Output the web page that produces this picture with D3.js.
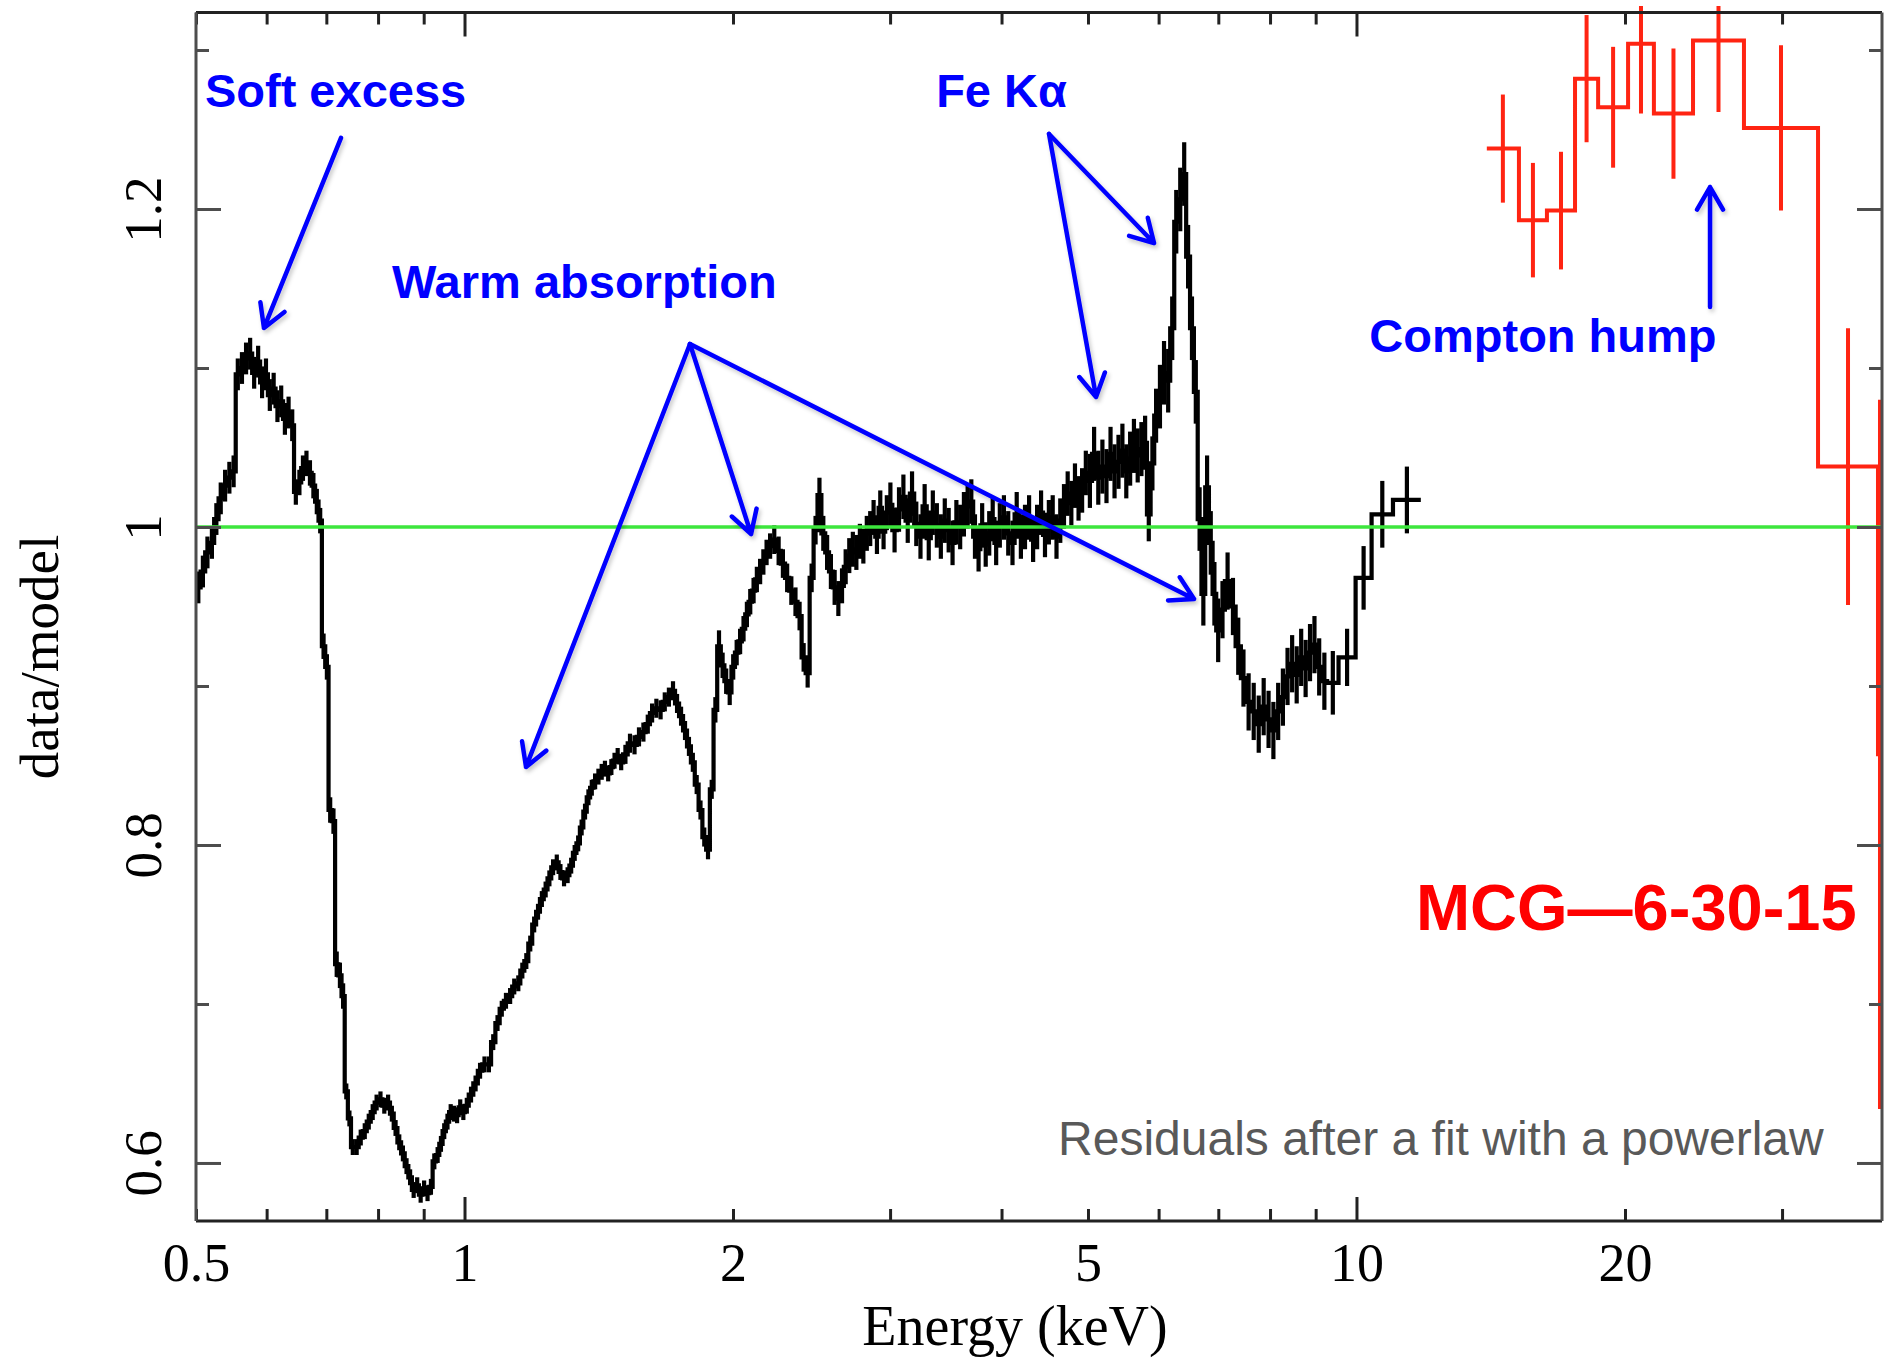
<!DOCTYPE html>
<html>
<head>
<meta charset="utf-8">
<script src="https://cdn.jsdelivr.net/npm/d3@7"></script>
<style>
  html, body { margin: 0; padding: 0; background: #ffffff; }
  svg { display: block; }
</style>
</head>
<body>
<svg id="chart" width="1886" height="1358"></svg>
<script>
// MCG-6-30-15: data/model ratio after a simple power-law fit.
// Soft/medium band spectrum: [bin centre energy (keV), ratio, 1-sigma error]
const blackSpectrum = [
  [0.503,0.962,0.010],[0.509,0.972,0.010],[0.515,0.984,0.010],[0.521,0.990,0.010],[0.527,1.005,0.010],
  [0.533,1.018,0.010],[0.539,1.026,0.010],[0.545,1.031,0.010],[0.551,1.035,0.010],[0.557,1.096,0.010],
  [0.563,1.100,0.010],[0.569,1.106,0.010],[0.575,1.109,0.010],[0.581,1.097,0.010],[0.587,1.104,0.010],
  [0.593,1.091,0.010],[0.599,1.096,0.010],[0.605,1.083,0.010],[0.611,1.087,0.010],[0.617,1.076,0.010],
  [0.623,1.079,0.010],[0.629,1.068,0.010],[0.635,1.072,0.010],[0.641,1.064,0.010],
  [0.647,1.022,0.008],[0.653,1.028,0.008],[0.659,1.037,0.008],[0.665,1.040,0.008],[0.671,1.034,0.008],
  [0.677,1.026,0.008],[0.683,1.016,0.008],[0.689,1.004,0.008],[0.695,0.925,0.008],[0.701,0.912,0.008],
  [0.707,0.822,0.008],[0.713,0.815,0.008],[0.719,0.725,0.008],[0.725,0.718,0.008],[0.731,0.705,0.008],
  [0.737,0.645,0.005],[0.743,0.628,0.005],[0.749,0.610,0.005],[0.757,0.610,0.005],[0.765,0.616,0.005],
  [0.773,0.620,0.005],[0.781,0.626,0.005],[0.789,0.632,0.005],[0.797,0.638,0.005],[0.805,0.640,0.005],
  [0.813,0.636,0.005],[0.821,0.638,0.005],[0.829,0.631,0.005],[0.837,0.622,0.005],[0.845,0.613,0.005],
  [0.853,0.606,0.005],[0.861,0.598,0.005],[0.869,0.591,0.005],[0.877,0.583,0.005],[0.885,0.586,0.005],
  [0.893,0.580,0.005],[0.901,0.584,0.005],[0.909,0.581,0.005],[0.917,0.585,0.005],[0.925,0.601,0.005],
  [0.933,0.605,0.005],[0.941,0.612,0.005],[0.949,0.620,0.005],[0.957,0.626,0.005],[0.965,0.632,0.005],
  [0.973,0.631,0.005],[0.981,0.630,0.005],[0.989,0.635,0.005],[0.997,0.632,0.005],
  [1.005,0.636,0.005],[1.017,0.643,0.005],[1.029,0.650,0.005],[1.041,0.658,0.005],[1.053,0.662,0.005],
  [1.065,0.662,0.005],[1.077,0.676,0.005],[1.089,0.688,0.005],[1.101,0.697,0.005],[1.113,0.702,0.005],
  [1.125,0.705,0.005],[1.137,0.711,0.005],[1.149,0.713,0.005],[1.161,0.721,0.005],[1.173,0.727,0.005],
  [1.185,0.738,0.005],[1.197,0.750,0.005],[1.209,0.758,0.005],[1.221,0.766,0.005],[1.233,0.772,0.005],
  [1.245,0.779,0.005],[1.257,0.786,0.005],[1.269,0.789,0.005],[1.281,0.783,0.005],[1.293,0.779,0.005],
  [1.305,0.781,0.005],[1.317,0.787,0.005],[1.329,0.795,0.005],[1.341,0.801,0.005],[1.353,0.811,0.005],
  [1.365,0.821,0.005],[1.377,0.830,0.005],[1.389,0.836,0.005],[1.401,0.840,0.005],[1.413,0.843,0.005],
  [1.425,0.846,0.005],[1.437,0.848,0.005],[1.449,0.845,0.005],[1.461,0.849,0.005],[1.473,0.853,0.005],
  [1.485,0.856,0.005],[1.497,0.852,0.005],
  [1.515,0.857,0.006],[1.533,0.864,0.006],[1.551,0.863,0.006],[1.569,0.868,0.006],[1.587,0.871,0.006],
  [1.605,0.876,0.006],[1.623,0.883,0.006],[1.641,0.886,0.006],[1.659,0.885,0.006],[1.677,0.890,0.006],
  [1.695,0.893,0.006],[1.713,0.897,0.006],[1.731,0.889,0.006],[1.749,0.881,0.006],[1.767,0.872,0.006],
  [1.785,0.862,0.006],[1.803,0.852,0.006],[1.821,0.838,0.006],[1.839,0.822,0.006],[1.857,0.805,0.006],
  [1.875,0.797,0.006],[1.893,0.835,0.006],[1.911,0.885,0.008],[1.929,0.925,0.010],[1.947,0.913,0.008],
  [1.965,0.903,0.008],[1.983,0.896,0.008],
  [2.001,0.912,0.008],[2.019,0.921,0.008],[2.037,0.928,0.008],[2.055,0.936,0.008],[2.073,0.945,0.008],
  [2.091,0.953,0.008],[2.109,0.960,0.008],[2.127,0.967,0.008],[2.145,0.972,0.008],[2.163,0.978,0.008],
  [2.181,0.984,0.008],[2.199,0.988,0.008],
  [2.225,0.992,0.009],[2.250,0.985,0.009],[2.275,0.977,0.009],[2.300,0.968,0.009],[2.325,0.960,0.009],
  [2.350,0.953,0.009],[2.375,0.944,0.009],[2.400,0.918,0.009],[2.425,0.908,0.009],[2.450,0.968,0.009],
  [2.475,0.998,0.009],[2.500,1.020,0.011],[2.525,0.996,0.011],[2.550,0.984,0.011],[2.575,0.972,0.011],
  [2.600,0.962,0.011],[2.625,0.955,0.011],[2.650,0.963,0.011],[2.675,0.975,0.011],[2.700,0.982,0.011],
  [2.725,0.986,0.011],[2.750,0.984,0.011],[2.775,0.991,0.011],[2.800,0.988,0.011],[2.825,0.996,0.011],
  [2.850,0.999,0.011],[2.875,1.006,0.011],[2.900,0.994,0.011],[2.925,1.012,0.011],[2.950,0.997,0.011],
  [2.975,1.009,0.011],
  [3.000,1.014,0.014],[3.035,0.998,0.014],[3.070,1.011,0.014],[3.105,1.019,0.014],[3.140,1.004,0.014],
  [3.175,1.021,0.014],[3.210,1.002,0.014],[3.245,0.994,0.014],[3.280,1.013,0.014],[3.315,0.993,0.014],
  [3.350,1.009,0.014],[3.385,1.001,0.014],[3.420,0.994,0.014],[3.455,1.004,0.014],[3.490,0.998,0.014],
  [3.525,0.990,0.014],[3.560,1.003,0.014],[3.595,1.000,0.014],[3.630,1.008,0.014],[3.665,1.013,0.014],
  [3.700,1.016,0.014],[3.735,0.994,0.014],[3.770,0.986,0.014],[3.805,1.001,0.014],[3.840,0.989,0.014],
  [3.875,0.996,0.014],[3.910,1.005,0.014],[3.945,0.990,0.014],[3.980,1.001,0.014],
  [4.025,1.006,0.014],[4.070,0.996,0.014],[4.115,0.990,0.014],[4.160,1.008,0.014],[4.205,0.994,0.014],
  [4.250,1.000,0.014],[4.295,1.006,0.014],[4.340,0.992,0.014],[4.385,1.000,0.014],[4.430,1.009,0.014],
  [4.475,0.995,0.014],[4.520,1.003,0.014],[4.565,1.006,0.014],[4.610,0.994,0.014],[4.655,1.004,0.014],
  [4.700,1.013,0.014],[4.745,1.021,0.014],[4.790,1.015,0.014],[4.835,1.026,0.014],[4.880,1.018,0.014],
  [4.925,1.023,0.014],[4.970,1.034,0.014],
  [5.025,1.029,0.017],[5.080,1.046,0.017],[5.135,1.031,0.017],[5.190,1.038,0.017],[5.245,1.032,0.017],
  [5.300,1.046,0.017],[5.355,1.035,0.017],[5.410,1.041,0.017],[5.465,1.048,0.017],[5.520,1.035,0.017],
  [5.575,1.043,0.017],[5.630,1.051,0.017],[5.685,1.045,0.017],[5.740,1.049,0.017],[5.795,1.053,0.017],
  [5.850,1.008,0.017],[5.905,1.040,0.017],[5.960,1.070,0.017],
  [6.020,1.082,0.020],[6.085,1.097,0.020],[6.150,1.092,0.020],[6.215,1.125,0.020],[6.280,1.192,0.020],
  [6.345,1.206,0.020],[6.410,1.222,0.020],[6.475,1.170,0.020],[6.540,1.125,0.020],[6.605,1.085,0.020],
  [6.670,1.005,0.020],[6.735,0.958,0.020],[6.800,1.025,0.020],[6.865,0.990,0.020],[6.930,0.958,0.020],
  [6.995,0.935,0.020],
  [7.07,0.948,0.018],[7.17,0.966,0.018],[7.27,0.950,0.018],[7.37,0.925,0.018],[7.47,0.905,0.018],
  [7.57,0.890,0.018],[7.67,0.884,0.018],[7.77,0.876,0.018],[7.87,0.887,0.018],[7.97,0.879,0.018],
  [8.07,0.872,0.018],[8.17,0.884,0.018],[8.27,0.893,0.018],[8.37,0.906,0.018],[8.47,0.914,0.018],
  [8.57,0.907,0.018],[8.67,0.918,0.018],[8.77,0.911,0.018],[8.87,0.921,0.018],[8.97,0.926,0.018],
  [9.08,0.912,0.018],[9.20,0.903,0.018],
  [9.34,0.902,0.020],[9.76,0.918,0.018],[10.20,0.968,0.020],[10.60,1.008,0.021],[11.39,1.017,0.021]
];

// Hard band spectrum: [bin low edge (keV), bin high edge (keV), ratio, 1-sigma error]
const redSpectrum = [
  [14.00,15.21,1.238,0.034],[15.21,16.35,1.193,0.036],[16.35,17.58,1.199,0.037],
  [17.58,18.66,1.282,0.040],[18.66,20.16,1.264,0.038],[20.16,21.55,1.304,0.044],
  [21.55,23.84,1.260,0.041],[23.84,27.19,1.306,0.045],[27.19,32.92,1.251,0.052],
  [32.92,38.43,1.038,0.087],[38.43,38.83,0.857,0.223]
];

// Axis ticks
const energyRange = [0.5, 38.83];
const ratioRange = [0.5635, 1.3236];
const xTicksMajor = [1, 10];
const xTicksMinor = [0.5, 0.6, 0.7, 0.8, 0.9, 2, 3, 4, 5, 6, 7, 8, 9, 20, 30];
const xTickLabels = [0.5, 1, 2, 5, 10, 20];
const yTicksMajor = [0.6, 0.8, 1.0, 1.2];
const yTicksMinor = [0.7, 0.9, 1.1, 1.3];
const modelLevel = 1.0;

// Callouts: label text with its anchor (keV, ratio)
const calloutLabels = [
  { text: "Soft excess",     e: 0.5117, r: 1.2642 },
  { text: "Warm absorption", e: 0.8293, r: 1.1440 },
  { text: "Fe K\u03b1",      e: 3.3787, r: 1.2642 },
  { text: "Compton hump",    e: 10.338, r: 1.1101 }
];
// Callout arrows: [[tail keV, tail ratio], [head keV, head ratio]]
const calloutArrows = [
  [[0.7270, 1.2447], [0.5959, 1.1252]],
  [[1.7897, 1.1151], [1.1721, 0.8491]],
  [[1.7897, 1.1151], [2.0955, 0.9956]],
  [[1.7897, 1.1151], [6.5748, 0.9547]],
  [[4.5215, 1.2472], [5.9296, 1.1786]],
  [[4.5215, 1.2472], [5.1055, 1.0818]],
  [[24.91, 1.1384], [24.91, 1.2138]]
];
const sourceName = { text: "MCG\u20146-30-15", e: 11.66, r: 0.7465 };
const fitNote = { text: "Residuals after a fit with a powerlaw", e: 4.628, r: 0.6050 };

// ---------------------------------------------------------------------------
const svg = d3.select("#chart");
const plot = { left: 196, right: 1882, top: 12.5, bottom: 1221 };

const x = d3.scaleLog().domain(energyRange).range([plot.left, plot.right]);
const y = d3.scaleLinear().domain(ratioRange).range([plot.bottom, plot.top]);

const defs = svg.append("defs");
defs.append("clipPath").attr("id", "plot-clip")
  .append("rect")
  .attr("x", plot.left).attr("y", 6)
  .attr("width", plot.right - plot.left).attr("height", plot.bottom - 6);
const shadow = defs.append("filter").attr("id", "arrow-shadow")
  .attr("x", "-20%").attr("y", "-20%").attr("width", "140%").attr("height", "140%");
shadow.append("feDropShadow")
  .attr("dx", 2).attr("dy", 3).attr("stdDeviation", 2)
  .attr("flood-color", "#000").attr("flood-opacity", 0.22);

const dataLayer = svg.append("g").attr("clip-path", "url(#plot-clip)");

// Convert centre-energy bins into bin edges (geometric midpoints)
function binsFromCentres(rows) {
  const n = rows.length;
  return rows.map((d, i) => {
    const lo = i > 0 ? Math.sqrt(rows[i - 1][0] * d[0]) : null;
    const hi = i < n - 1 ? Math.sqrt(d[0] * rows[i + 1][0]) : null;
    return { e: d[0], lo, hi, r: d[1], err: d[2] };
  }).map(b => {
    if (b.lo === null) b.lo = b.e * b.e / b.hi;
    if (b.hi === null) b.hi = b.e * b.e / b.lo;
    return b;
  });
}

function stepPath(bins) {
  let p = "";
  bins.forEach((b, i) => {
    const yy = y(b.r);
    if (i === 0) p += `M${x(b.lo)},${yy}`;
    else p += `V${yy}`;
    p += `H${x(b.hi)}`;
  });
  return p;
}

function drawSpectrum(bins, color, width) {
  const g = dataLayer.append("g");
  g.append("path")
    .attr("d", stepPath(bins))
    .attr("fill", "none")
    .attr("stroke", color)
    .attr("stroke-width", width)
    .attr("stroke-linejoin", "miter");
  g.selectAll("line.err")
    .data(bins)
    .join("line")
    .attr("class", "err")
    .attr("x1", b => x(Math.sqrt(b.lo * b.hi)))
    .attr("x2", b => x(Math.sqrt(b.lo * b.hi)))
    .attr("y1", b => y(b.r - b.err))
    .attr("y2", b => y(b.r + b.err))
    .attr("stroke", color)
    .attr("stroke-width", width);
}

const blackBins = binsFromCentres(blackSpectrum);
const redBins = redSpectrum.map(d => ({ lo: d[0], hi: d[1], r: d[2], err: d[3] }));

drawSpectrum(blackBins, "#000000", 4.2);
drawSpectrum(redBins, "#ff2412", 4);

// Model level (ratio = 1)
svg.append("line")
  .attr("x1", plot.left).attr("x2", plot.right)
  .attr("y1", y(modelLevel)).attr("y2", y(modelLevel))
  .attr("stroke", "#3de63d").attr("stroke-width", 3.5);

// ---------------------------------------------------------------------------
// Frame and inward ticks on all four sides
const frameDark = "#222222";
const frameGrey = "#4d4d4d";

function styleAxis(g, color) {
  g.selectAll(".domain").remove();
  g.selectAll(".tick line").attr("stroke", color).attr("stroke-width", 3);
}

// bottom
svg.append("g").attr("transform", `translate(0,${plot.bottom})`)
  .call(d3.axisBottom(x).tickValues(xTicksMinor).tickSize(-12).tickFormat(""))
  .call(g => styleAxis(g, frameDark));
svg.append("g").attr("transform", `translate(0,${plot.bottom})`)
  .call(d3.axisBottom(x).tickValues(xTicksMajor).tickSize(-24).tickFormat(""))
  .call(g => styleAxis(g, frameDark));
svg.append("g").attr("transform", `translate(0,${plot.bottom})`)
  .call(d3.axisBottom(x).tickValues(xTickLabels).tickSize(0).tickPadding(22)
    .tickFormat(d => String(d)))
  .call(g => {
    g.selectAll(".domain").remove();
    g.selectAll("text")
      .attr("font-family", "'Liberation Serif', 'Times New Roman', serif")
      .attr("font-size", 54)
      .attr("fill", "#000");
  });

// top
svg.append("g").attr("transform", `translate(0,${plot.top})`)
  .call(d3.axisTop(x).tickValues(xTicksMinor).tickSize(-12).tickFormat(""))
  .call(g => styleAxis(g, frameDark));
svg.append("g").attr("transform", `translate(0,${plot.top})`)
  .call(d3.axisTop(x).tickValues(xTicksMajor).tickSize(-24).tickFormat(""))
  .call(g => styleAxis(g, frameDark));

// left
svg.append("g").attr("transform", `translate(${plot.left},0)`)
  .call(d3.axisLeft(y).tickValues(yTicksMinor).tickSize(-13).tickFormat(""))
  .call(g => styleAxis(g, frameGrey));
svg.append("g").attr("transform", `translate(${plot.left},0)`)
  .call(d3.axisLeft(y).tickValues(yTicksMajor).tickSize(-25)
    .tickFormat(d => (d === 1 ? "1" : String(d))))
  .call(g => {
    styleAxis(g, frameGrey);
    g.selectAll("text")
      .attr("x", 0).attr("dy", 0)
      .attr("text-anchor", "middle")
      .attr("transform", "translate(-35,0) rotate(-90)")
      .attr("font-family", "'Liberation Serif', 'Times New Roman', serif")
      .attr("font-size", 53)
      .attr("fill", "#000");
  });

// right
svg.append("g").attr("transform", `translate(${plot.right},0)`)
  .call(d3.axisRight(y).tickValues(yTicksMinor).tickSize(-13).tickFormat(""))
  .call(g => styleAxis(g, frameGrey));
svg.append("g").attr("transform", `translate(${plot.right},0)`)
  .call(d3.axisRight(y).tickValues(yTicksMajor).tickSize(-25).tickFormat(""))
  .call(g => styleAxis(g, frameGrey));

// frame
svg.append("line").attr("x1", plot.left).attr("x2", plot.right)
  .attr("y1", plot.bottom).attr("y2", plot.bottom)
  .attr("stroke", frameDark).attr("stroke-width", 3);
svg.append("line").attr("x1", plot.left).attr("x2", plot.right)
  .attr("y1", plot.top).attr("y2", plot.top)
  .attr("stroke", frameDark).attr("stroke-width", 3);
svg.append("line").attr("x1", plot.left).attr("x2", plot.left)
  .attr("y1", plot.top).attr("y2", plot.bottom)
  .attr("stroke", frameGrey).attr("stroke-width", 3);
svg.append("line").attr("x1", plot.right).attr("x2", plot.right)
  .attr("y1", plot.top).attr("y2", plot.bottom)
  .attr("stroke", frameGrey).attr("stroke-width", 3);

// axis titles
svg.append("text")
  .attr("x", 1015).attr("y", 1345)
  .attr("text-anchor", "middle")
  .attr("font-family", "'Liberation Serif', 'Times New Roman', serif")
  .attr("font-size", 56)
  .attr("fill", "#000")
  .text("Energy (keV)");
svg.append("text")
  .attr("transform", "translate(58,657) rotate(-90)")
  .attr("text-anchor", "middle")
  .attr("font-family", "'Liberation Serif', 'Times New Roman', serif")
  .attr("font-size", 55)
  .attr("fill", "#000")
  .text("data/model");

// ---------------------------------------------------------------------------
// Callouts
const blue = "#0000ff";

function arrowPath(a) {
  const x0 = x(a[0][0]), y0 = y(a[0][1]);
  const x1 = x(a[1][0]), y1 = y(a[1][1]);
  const ang = Math.atan2(y1 - y0, x1 - x0);
  const len = 26, spread = Math.PI / 6;
  const lx = x1 - len * Math.cos(ang - spread), ly = y1 - len * Math.sin(ang - spread);
  const rx = x1 - len * Math.cos(ang + spread), ry = y1 - len * Math.sin(ang + spread);
  return `M${x0},${y0}L${x1},${y1}M${lx},${ly}L${x1},${y1}L${rx},${ry}`;
}

svg.append("g")
  .attr("filter", "url(#arrow-shadow)")
  .selectAll("path")
  .data(calloutArrows)
  .join("path")
  .attr("d", arrowPath)
  .attr("fill", "none")
  .attr("stroke", blue)
  .attr("stroke-width", 4.5)
  .attr("stroke-linecap", "round")
  .attr("stroke-linejoin", "round");

svg.append("g")
  .selectAll("text")
  .data(calloutLabels)
  .join("text")
  .attr("x", d => x(d.e))
  .attr("y", d => y(d.r))
  .attr("font-family", "'Liberation Sans', Arial, Helvetica, sans-serif")
  .attr("font-weight", "bold")
  .attr("font-size", 47)
  .attr("fill", blue)
  .text(d => d.text);

svg.append("text")
  .attr("x", x(sourceName.e))
  .attr("y", y(sourceName.r))
  .attr("font-family", "'Liberation Sans', Arial, Helvetica, sans-serif")
  .attr("font-weight", "bold")
  .attr("font-size", 65)
  .attr("fill", "#ff0000")
  .text(sourceName.text);

svg.append("text")
  .attr("x", x(fitNote.e))
  .attr("y", y(fitNote.r))
  .attr("font-family", "'Liberation Sans', Arial, Helvetica, sans-serif")
  .attr("font-size", 48)
  .attr("fill", "#595959")
  .text(fitNote.text);
</script>
</body>
</html>
